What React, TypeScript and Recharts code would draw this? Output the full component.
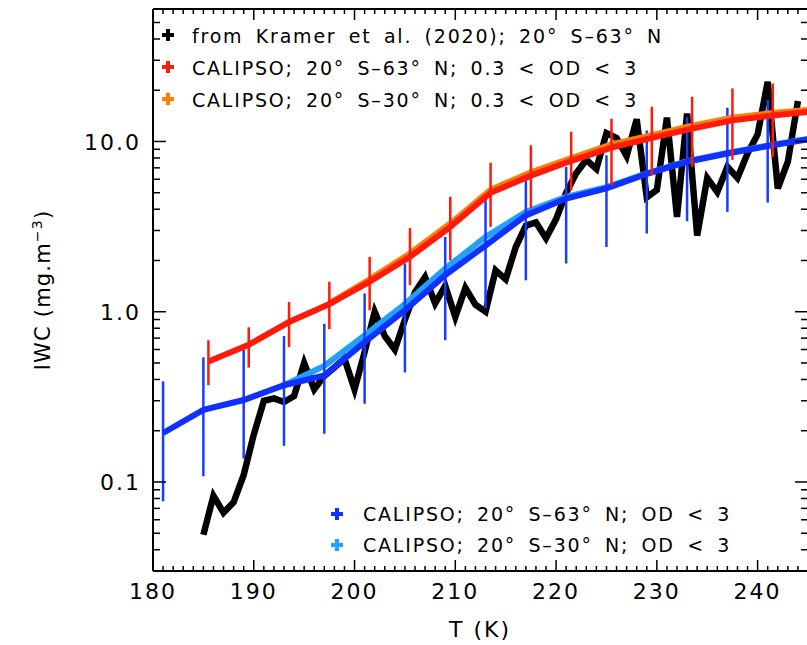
import React from 'react'
import { ErrorBar, Line, LineChart, XAxis, YAxis } from 'recharts'

// Kramer et al. (2020), 1 K steps
const kramerT = [
  185, 186, 187, 188, 189, 190, 191, 192, 193, 194, 195, 196, 197, 198, 199, 200, 201, 202, 203, 204,
  205, 206, 207, 208, 209, 210, 211, 212, 213, 214, 215, 216, 217, 218, 219, 220, 221, 222, 223, 224,
  225, 226, 227, 228, 229, 230, 231, 232, 233, 234, 235, 236, 237, 238, 239, 240, 241, 242, 243, 244,
]
const kramerIWC = [
  0.049, 0.083, 0.066, 0.076, 0.11, 0.19, 0.3, 0.31, 0.295, 0.32, 0.5, 0.35, 0.42, 0.47, 0.53, 0.35, 0.58, 1.0, 0.72, 0.6,
  0.9, 1.3, 1.6, 1.12, 1.42, 0.93, 1.38, 1.1, 1.0, 1.75, 1.55, 2.4, 3.2, 3.35, 2.7, 3.5, 5.0, 6.5, 7.8, 6.9,
  11.2, 10.5, 8.2, 13.5, 4.7, 5.2, 13.8, 3.6, 14.6, 2.8, 6.1, 5.05, 7.1, 6.1, 8.5, 11.0, 22.4, 5.3, 7.6, 17.3,
]

// CALIPSO 20S-63N, 0.3 < OD < 3
const redT = [185.5, 189.5, 193.5, 197.5, 201.5, 205.5, 209.5, 213.5, 217.5, 221.5, 225.5, 229.5, 233.5, 237.5, 241.5, 245.5]
const redIWC = [0.51, 0.64, 0.87, 1.11, 1.5, 2.1, 3.15, 5.0, 6.3, 7.7, 9.2, 10.5, 11.9, 13.3, 14.2, 15.0]
const redLow = [0.37, 0.47, 0.62, 0.79, 1.02, 1.43, 2.0, 3.15, 4.04, 5.17, 5.54, 6.33, 7.1, 7.8, 8.1, 15.0]
const redHigh = [0.68, 0.81, 1.14, 1.5, 2.1, 3.1, 4.73, 7.5, 9.5, 11.4, 13.6, 16.0, 18.3, 20.5, 21.9, 15.0]

// CALIPSO 20S-30N, 0.3 < OD < 3
const orangeT = [197.5, 201.5, 205.5, 209.5, 213.5, 217.5, 221.5, 225.5, 229.5, 233.5, 237.5, 241.5, 245.5]
const orangeIWC = [1.12, 1.55, 2.2, 3.3, 5.2, 6.6, 8.0, 9.6, 10.9, 12.4, 13.8, 14.7, 15.4]

// CALIPSO 20S-63N, OD < 3
const blueT = [181, 185, 189, 193, 197, 201, 205, 209, 213, 217, 221, 225, 229, 233, 237, 241, 245]
const blueIWC = [0.194, 0.265, 0.303, 0.37, 0.422, 0.663, 1.02, 1.64, 2.45, 3.68, 4.62, 5.3, 6.45, 7.6, 8.5, 9.4, 10.3]
const blueLow = [0.077, 0.108, 0.137, 0.163, 0.192, 0.288, 0.44, 0.68, 1.05, 1.53, 1.92, 2.4, 2.88, 3.4, 3.86, 4.38, 10.3]
const blueHigh = [0.39, 0.54, 0.6, 0.72, 0.85, 1.28, 1.92, 2.75, 4.6, 5.92, 7.1, 8.3, 11.6, 13.9, 15.8, 17.5, 10.3]

// CALIPSO 20S-30N, OD < 3
const lightBlueT = [193, 197, 201, 205, 209, 213, 217, 221, 225, 229, 233, 237, 241, 245]
const lightBlueIWC = [0.37, 0.48, 0.725, 1.11, 1.79, 2.75, 3.86, 4.72, 5.4, 6.5, 7.65, 8.55, 9.45, 10.35]

const xTicks = Array.from({ length: 66 }, (_, i) => 180 + i)
const xMajor = [180, 190, 200, 210, 220, 230, 240]
const yTicks = [
  0.03, 0.04, 0.05, 0.06, 0.07, 0.08, 0.09, 0.1, 0.2, 0.3, 0.4, 0.5, 0.6, 0.7, 0.8, 0.9,
  1, 2, 3, 4, 5, 6, 7, 8, 9, 10, 20, 30, 40, 50, 60,
]
const yLabels: Record<string, string> = { '0.1': '0.1', '1': '1.0', '10': '10.0' }

const topLegend = [
  { label: 'from Kramer et al. (2020); 20° S–63° N', color: '#000000' },
  { label: 'CALIPSO; 20° S–63° N; 0.3 < OD < 3', color: '#ff1a0a' },
  { label: 'CALIPSO; 20° S–30° N; 0.3 < OD < 3', color: '#ff8000' },
]
const bottomLegend = [
  { label: 'CALIPSO; 20° S–63° N; OD < 3', color: '#1030ff' },
  { label: 'CALIPSO; 20° S–30° N; OD < 3', color: '#20a0ff' },
]

const FONT = 'DejaVu Sans'

const withErr = (T: number[], v: number[], lo?: number[], hi?: number[]) =>
  T.map((t, i) => ({
    T: t,
    v: v[i],
    err: lo && hi ? [v[i] - lo[i], hi[i] - v[i]] : undefined,
  }))

const kramerData = withErr(kramerT, kramerIWC)
const redData = withErr(redT, redIWC, redLow, redHigh)
const orangeData = withErr(orangeT, orangeIWC)
const blueData = withErr(blueT, blueIWC, blueLow, blueHigh)
const lightBlueData = withErr(lightBlueT, lightBlueIWC)

const XTick = (props: any) => {
  const { x, y, payload, top } = props
  const major = xMajor.includes(payload.value)
  const len = major ? 11 : 5
  return (
    <g>
      <line x1={x} x2={x} y1={y} y2={top ? y + len : y - len} stroke="#000" strokeWidth={1.5} />
      {!top && major && (
        <text x={x} y={y + 28} textAnchor="middle" fontSize={22} fontFamily={FONT} fill="#000" style={{ letterSpacing: 2 }}>
          {payload.value}
        </text>
      )}
    </g>
  )
}

const YTick = (props: any) => {
  const { x, y, payload, right } = props
  const label = yLabels[String(payload.value)]
  const len = label ? 13 : 7
  return (
    <g>
      <line x1={x} x2={right ? x - len : x + len} y1={y} y2={y} stroke="#000" strokeWidth={1.5} />
      {!right && label && (
        <text x={x - 12} y={y + 8.5} textAnchor="end" fontSize={22} fontFamily={FONT} fill="#000" style={{ letterSpacing: 2 }}>
          {label}
        </text>
      )}
    </g>
  )
}

const Plus = ({ cx, cy, color }: { cx: number; cy: number; color: string }) => (
  <g fill={color}>
    <rect x={cx - 6} y={cy - 2} width={12} height={4} />
    <rect x={cx - 2} y={cy - 6} width={4} height={12} />
  </g>
)

const legendText = { fontSize: 19, fontFamily: FONT, fill: '#000', style: { letterSpacing: 1.8, wordSpacing: 4.5 } }

export default function App() {
  return (
    <div style={{ position: 'absolute', left: 0, top: 0, width: 807, height: 645, overflow: 'hidden', background: '#fff' }}>
      <LineChart width={830} height={645} margin={{ top: 8, right: 12, bottom: 44, left: 93 }}>
        <XAxis
          xAxisId="b"
          dataKey="T"
          type="number"
          domain={[180, 245]}
          allowDataOverflow
          ticks={xTicks}
          interval={0}
          tickSize={0}
          tickMargin={0}
          height={30}
          axisLine={{ stroke: '#000', strokeWidth: 2 }}
          tick={<XTick />}
        />
        <XAxis
          xAxisId="t"
          orientation="top"
          dataKey="T"
          type="number"
          domain={[180, 245]}
          allowDataOverflow
          ticks={xTicks}
          interval={0}
          tickSize={0}
          tickMargin={0}
          height={1}
          axisLine={{ stroke: '#000', strokeWidth: 2 }}
          tick={<XTick top />}
        />
        <YAxis
          yAxisId="l"
          scale="log"
          type="number"
          domain={[0.03, 60]}
          allowDataOverflow
          ticks={yTicks}
          interval={0}
          tickSize={0}
          tickMargin={0}
          width={60}
          axisLine={{ stroke: '#000', strokeWidth: 2 }}
          tick={<YTick />}
        />
        <YAxis
          yAxisId="r"
          orientation="right"
          scale="log"
          type="number"
          domain={[0.03, 60]}
          allowDataOverflow
          ticks={yTicks}
          interval={0}
          tickSize={0}
          tickMargin={0}
          width={10}
          axisLine={{ stroke: '#000', strokeWidth: 2 }}
          tick={<YTick right />}
        />

        <Line
          xAxisId="b"
          yAxisId="l"
          data={kramerData}
          dataKey="v"
          stroke="#000"
          strokeWidth={6.5}
          dot={false}
          isAnimationActive={false}
        />
        <Line
          xAxisId="b"
          yAxisId="l"
          data={lightBlueData}
          dataKey="v"
          stroke="#20a0ff"
          strokeWidth={6}
          dot={false}
          isAnimationActive={false}
        />
        <Line
          xAxisId="b"
          yAxisId="l"
          data={blueData}
          dataKey="v"
          stroke="#1030ff"
          strokeWidth={6}
          dot={false}
          isAnimationActive={false}
        >
          <ErrorBar dataKey="err" direction="y" width={0} stroke="#1a3cff" strokeWidth={2.5} isAnimationActive={false} />
        </Line>
        <Line
          xAxisId="b"
          yAxisId="l"
          data={orangeData}
          dataKey="v"
          stroke="#ff8000"
          strokeWidth={6}
          dot={false}
          isAnimationActive={false}
        />
        <Line
          xAxisId="b"
          yAxisId="l"
          data={redData}
          dataKey="v"
          stroke="#ff1a0a"
          strokeWidth={6}
          dot={false}
          isAnimationActive={false}
        >
          <ErrorBar dataKey="err" direction="y" width={0} stroke="#ff1a0a" strokeWidth={2.5} isAnimationActive={false} />
        </Line>
      </LineChart>

      <svg width={807} height={645} style={{ position: 'absolute', left: 0, top: 0, pointerEvents: 'none' }}>
        {topLegend.map((d, i) => (
          <g key={d.label}>
            <Plus cx={168} cy={35 + i * 32} color={d.color} />
            <text x={192} y={42.5 + i * 32} {...legendText}>
              {d.label}
            </text>
          </g>
        ))}
        {bottomLegend.map((d, i) => (
          <g key={d.label}>
            <Plus cx={337} cy={514 + i * 31} color={d.color} />
            <text x={363} y={521 + i * 31} {...legendText}>
              {d.label}
            </text>
          </g>
        ))}
        <text x={480} y={637} textAnchor="middle" fontSize={22} fontFamily={FONT} fill="#000" style={{ letterSpacing: 2 }}>
          T (K)
        </text>
        <text
          x={50}
          y={290}
          textAnchor="middle"
          transform="rotate(-90 50 290)"
          fontSize={21}
          fontFamily={FONT}
          fill="#000"
          style={{ letterSpacing: 1.2 }}
        >
          IWC (mg.m
          <tspan dy={-8} fontSize={14}>
            −3
          </tspan>
          <tspan dy={8}>)</tspan>
        </text>
      </svg>
    </div>
  )
}
